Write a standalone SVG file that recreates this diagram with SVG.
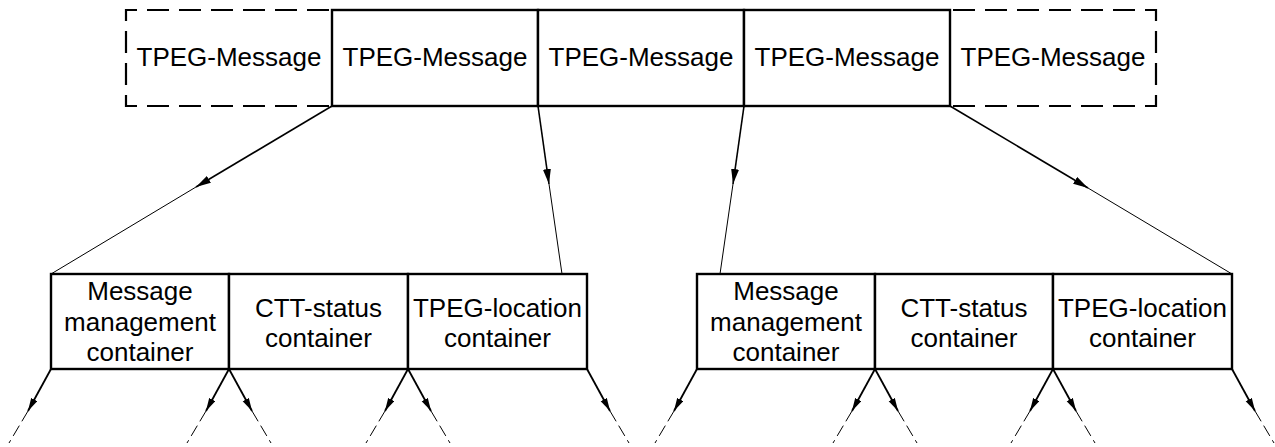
<svg xmlns="http://www.w3.org/2000/svg" width="1275" height="447" viewBox="0 0 1275 447">
<style>
text{font-family:"Liberation Sans",Arial,sans-serif;font-size:26px;fill:#000;text-anchor:middle}
.box{fill:#fff;stroke:#000;stroke-width:2.4}
.dash{fill:none;stroke:#000;stroke-width:2.2;stroke-dasharray:22 10;stroke-dashoffset:29}
.c1{stroke:#000;stroke-width:1.6;fill:none}
.c2{stroke:#000;stroke-width:1;fill:none}
.b1{stroke:#000;stroke-width:1.8;fill:none}
.b2{stroke:#000;stroke-width:1;fill:none;stroke-dasharray:12 5}
</style>
<defs>
<marker id="ah" markerUnits="userSpaceOnUse" markerWidth="16" markerHeight="10" refX="15" refY="4" orient="auto">
<path d="M0,0 L15,4 L0,8 Z" fill="#000"/>
</marker>
<marker id="ah2" markerUnits="userSpaceOnUse" markerWidth="14" markerHeight="8" refX="13" refY="3.5" orient="auto">
<path d="M0,0 L13,3.5 L0,7 Z" fill="#000"/>
</marker>
</defs>
<g id="connectors">
<line class="c1" x1="332" y1="106" x2="196" y2="187" marker-end="url(#ah)"/>
<line class="c2" x1="196" y1="187" x2="51" y2="274"/>
<line class="c1" x1="538" y1="106" x2="549" y2="184" marker-end="url(#ah)"/>
<line class="c2" x1="549" y1="184" x2="562" y2="274"/>
<line class="c1" x1="744" y1="106" x2="733" y2="184" marker-end="url(#ah)"/>
<line class="c2" x1="733" y1="184" x2="720" y2="274"/>
<line class="c1" x1="950" y1="106" x2="1088" y2="188" marker-end="url(#ah)"/>
<line class="c2" x1="1088" y1="188" x2="1232" y2="274"/>
<g id="down-arrows">
<line class="b1" x1="51" y1="369" x2="28" y2="411" marker-end="url(#ah2)"/><line class="b2" x1="28" y1="411" x2="9" y2="443"/>
<line class="b1" x1="229" y1="369" x2="206" y2="411" marker-end="url(#ah2)"/><line class="b2" x1="206" y1="411" x2="187" y2="443"/>
<line class="b1" x1="229" y1="369" x2="252" y2="411" marker-end="url(#ah2)"/><line class="b2" x1="252" y1="411" x2="271" y2="443"/>
<line class="b1" x1="408" y1="369" x2="385" y2="411" marker-end="url(#ah2)"/><line class="b2" x1="385" y1="411" x2="366" y2="443"/>
<line class="b1" x1="408" y1="369" x2="431" y2="411" marker-end="url(#ah2)"/><line class="b2" x1="431" y1="411" x2="450" y2="443"/>
<line class="b1" x1="587" y1="369" x2="610" y2="411" marker-end="url(#ah2)"/><line class="b2" x1="610" y1="411" x2="629" y2="443"/>
<line class="b1" x1="697" y1="369" x2="674" y2="411" marker-end="url(#ah2)"/><line class="b2" x1="674" y1="411" x2="655" y2="443"/>
<line class="b1" x1="875" y1="369" x2="852" y2="411" marker-end="url(#ah2)"/><line class="b2" x1="852" y1="411" x2="833" y2="443"/>
<line class="b1" x1="875" y1="369" x2="898" y2="411" marker-end="url(#ah2)"/><line class="b2" x1="898" y1="411" x2="917" y2="443"/>
<line class="b1" x1="1053" y1="369" x2="1030" y2="411" marker-end="url(#ah2)"/><line class="b2" x1="1030" y1="411" x2="1011" y2="443"/>
<line class="b1" x1="1053" y1="369" x2="1076" y2="411" marker-end="url(#ah2)"/><line class="b2" x1="1076" y1="411" x2="1095" y2="443"/>
<line class="b1" x1="1232" y1="369" x2="1255" y2="411" marker-end="url(#ah2)"/><line class="b2" x1="1255" y1="411" x2="1274" y2="443"/>
</g>
</g>
<g id="msg1">
<path class="dash" d="M332,10 L126,10 L126,106 L332,106"/>
<text x="229" y="66">TPEG-Message</text>
</g>
<g id="msg2">
<rect class="box" x="332" y="10" width="206" height="96"/>
<text x="435" y="66">TPEG-Message</text>
</g>
<g id="msg3">
<rect class="box" x="538" y="10" width="206" height="96"/>
<text x="641" y="66">TPEG-Message</text>
</g>
<g id="msg4">
<rect class="box" x="744" y="10" width="206" height="96"/>
<text x="847" y="66">TPEG-Message</text>
</g>
<g id="msg5">
<path class="dash" d="M950,10 L1156,10 L1156,106 L950,106"/>
<text x="1053" y="66">TPEG-Message</text>
</g>
<g id="mm1">
<rect class="box" x="51" y="274" width="178" height="95"/>
<text x="140" y="300">Message</text>
<text x="140" y="331">management</text>
<text x="140" y="361">container</text>
</g>
<g id="ctt1">
<rect class="box" x="229" y="274" width="179" height="95"/>
<text x="318.5" y="317">CTT-status</text>
<text x="318.5" y="347">container</text>
</g>
<g id="loc1">
<rect class="box" x="408" y="274" width="179" height="95"/>
<text x="497.5" y="317">TPEG-location</text>
<text x="497.5" y="347">container</text>
</g>
<g id="mm2">
<rect class="box" x="697" y="274" width="178" height="95"/>
<text x="786" y="300">Message</text>
<text x="786" y="331">management</text>
<text x="786" y="361">container</text>
</g>
<g id="ctt2">
<rect class="box" x="875" y="274" width="178" height="95"/>
<text x="964" y="317">CTT-status</text>
<text x="964" y="347">container</text>
</g>
<g id="loc2">
<rect class="box" x="1053" y="274" width="179" height="95"/>
<text x="1142.5" y="317">TPEG-location</text>
<text x="1142.5" y="347">container</text>
</g>
</svg>
